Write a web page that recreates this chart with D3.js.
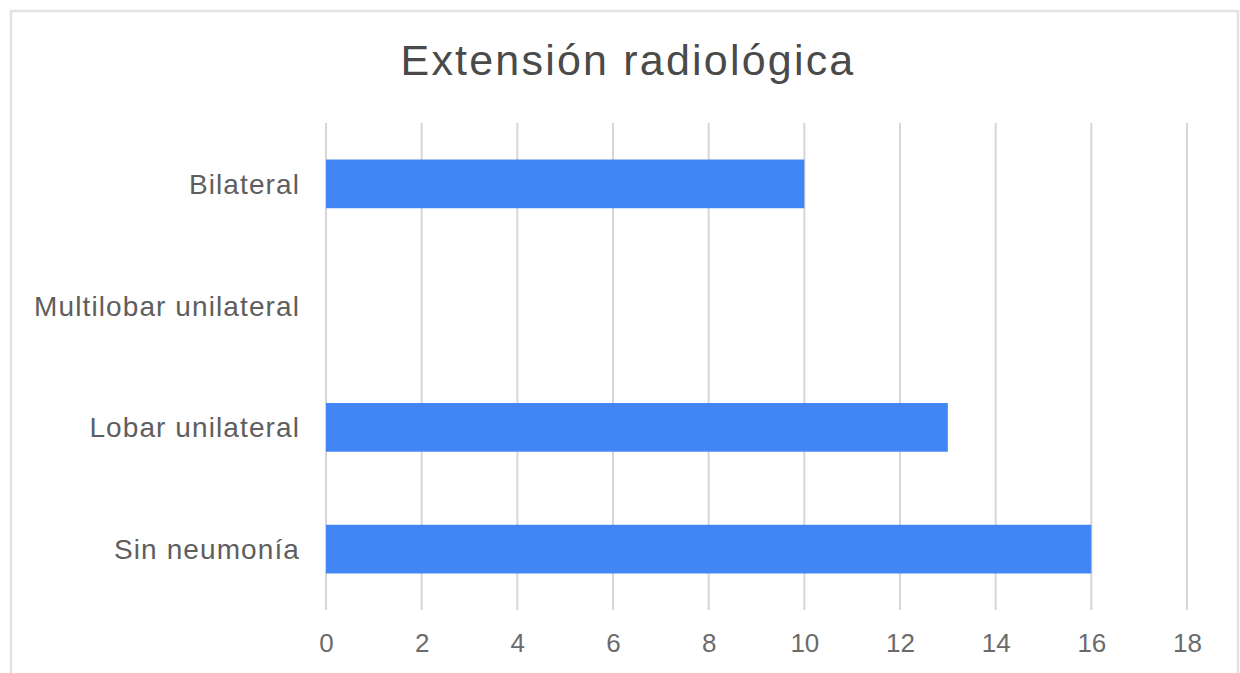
<!DOCTYPE html>
<html>
<head>
<meta charset="utf-8">
<script src="https://cdn.jsdelivr.net/npm/d3@7"></script>
<style>
  html, body { margin: 0; padding: 0; background: #fff; }
  svg { display: block; font-family: "Liberation Sans", Arial, sans-serif; }
</style>
</head>
<body>
<svg id="chart" width="1240" height="673"></svg>
<script>
const title = "Extensión radiológica";
const categories = ["Bilateral", "Multilobar unilateral", "Lobar unilateral", "Sin neumonía"];
const values = [10, 0, 13, 16];
const xTicks = [0, 2, 4, 6, 8, 10, 12, 14, 16, 18];

const W = 1240, H = 673;
const margin = { left: 326, right: 53, top: 123, bottom: 63 };
const svg = d3.select("#chart");

// frame
svg.append("rect")
  .attr("x", 11).attr("y", 11)
  .attr("width", 1227).attr("height", 700)
  .attr("fill", "none").attr("stroke", "#e2e2e2").attr("stroke-width", 2.5);

const x = d3.scaleLinear().domain([0, 18]).range([margin.left, W - margin.right]);
const y = d3.scaleBand().domain(categories).range([margin.top, H - margin.bottom]).paddingInner(0.6).paddingOuter(0.3);

// gridlines
svg.append("g").selectAll("line").data(xTicks).join("line")
  .attr("x1", d => x(d)).attr("x2", d => x(d))
  .attr("y1", margin.top).attr("y2", H - margin.bottom)
  .attr("stroke", "#d6d6d6").attr("stroke-width", 2);

// bars
svg.append("g").selectAll("rect").data(categories).join("rect")
  .attr("x", x(0))
  .attr("y", d => y(d))
  .attr("width", (d, i) => x(values[i]) - x(0))
  .attr("height", y.bandwidth())
  .attr("fill", "#4285f4");

// x axis labels
const xAxis = d3.axisBottom(x).tickValues(xTicks).tickSize(0).tickPadding(0);
const gx = svg.append("g").attr("transform", `translate(0, 634)`).call(xAxis);
gx.select(".domain").remove();
gx.selectAll("text")
  .attr("font-size", 26).attr("font-family", "'Liberation Sans', Arial, sans-serif")
  .attr("fill", "#6b6b6b").attr("dy", "0.71em");

// y axis labels
const yAxis = d3.axisLeft(y).tickSize(0).tickPadding(26);
const gy = svg.append("g").attr("transform", `translate(${margin.left}, 0)`).call(yAxis);
gy.select(".domain").remove();
gy.selectAll("text")
  .attr("font-size", 28).attr("font-family", "'Liberation Sans', Arial, sans-serif")
  .attr("fill", "#5e5e5e").attr("letter-spacing", 1.1).attr("dy", "0.36em");

// title
svg.append("text")
  .attr("x", 628).attr("y", 75)
  .attr("text-anchor", "middle")
  .attr("font-size", 43).attr("letter-spacing", 2.2)
  .attr("fill", "#4a4a4a")
  .text(title);
</script>
</body>
</html>
